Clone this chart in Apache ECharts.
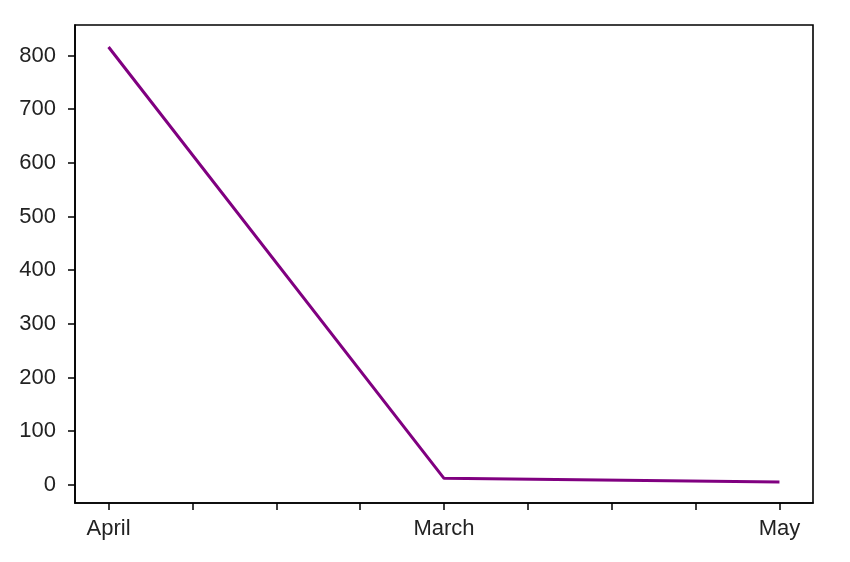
<!DOCTYPE html>
<html>
<head>
<meta charset="utf-8">
<script src="https://cdn.jsdelivr.net/npm/echarts@6/dist/echarts.min.js"></script>
<style>html,body{margin:0;padding:0;background:#fff;}#c{width:850px;height:562px;}</style>
</head>
<body>
<div id="c"></div>
<script>
const categories = ['April', 'March', 'May'];
const values = [816, 12, 5];
const yTicks = [0, 100, 200, 300, 400, 500, 600, 700, 800];
const xMinorTicks = [0, 0.25, 0.5, 0.75, 1, 1.25, 1.5, 1.75, 2];

const chart = echarts.init(document.getElementById('c'));
const font = 'Liberation Sans';
chart.setOption({
  animation: false,
  backgroundColor: '#fff',
  grid: { left: 75, right: 37, top: 25, bottom: 59, show: true, borderColor: '#000', borderWidth: 1.6, containLabel: false },
  xAxis: {
    type: 'value', min: -0.1, max: 2.1,
    splitLine: { show: false },
    axisLine: { show: true, onZero: false, lineStyle: { color: '#000', width: 1.6 } },
    axisTick: { show: true, length: 7, lineStyle: { color: '#000', width: 1.5 }, customValues: xMinorTicks },
    axisLabel: { show: true, margin: 15, fontFamily: font, fontSize: 22, color: '#222',
      customValues: categories.map((c, i) => i),
      formatter: v => categories[Math.round(v)] }
  },
  yAxis: {
    type: 'value', min: -34, max: 857,
    splitLine: { show: false },
    axisLine: { show: true, onZero: false, lineStyle: { color: '#000', width: 1.6 } },
    axisTick: { show: true, length: 7, lineStyle: { color: '#000', width: 1.5 }, customValues: yTicks },
    axisLabel: { show: true, margin: 19, fontFamily: font, fontSize: 22, color: '#222', customValues: yTicks }
  },
  series: [{
    type: 'line',
    data: categories.map((c, i) => [i, values[i]]),
    showSymbol: false,
    lineStyle: { color: '#800080', width: 3 },
    itemStyle: { color: '#800080' }
  }]
});
</script>
</body>
</html>
